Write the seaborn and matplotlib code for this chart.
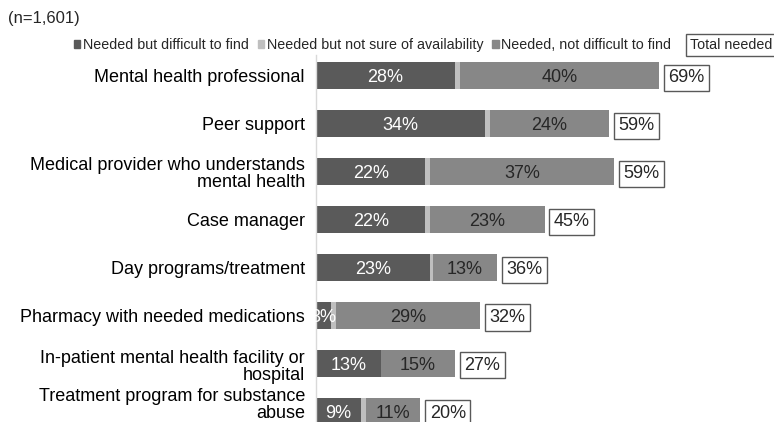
import pandas as pd
import seaborn as sns
import matplotlib.pyplot as plt
from matplotlib.patches import Patch
from matplotlib.transforms import ScaledTranslation

categories = [
    'Mental health professional',
    'Peer support',
    'Medical provider who understands\nmental health',
    'Case manager',
    'Day programs/treatment',
    'Pharmacy with needed medications',
    'In-patient mental health facility or\nhospital',
    'Treatment program for substance\nabuse',
]
difficult = [28, 34, 22, 22, 23, 3, 13, 9]
not_sure = [1, 1, 1, 1, 0.5, 1, 0, 1]
not_difficult = [40, 24, 37, 23, 13, 29, 15, 11]
total = [69, 59, 59, 45, 36, 32, 27, 20]

series_names = ['Needed but difficult to find', 'Needed but not sure of availability',
                'Needed, not difficult to find']

DARK = '#5a5a5a'
LIGHT = '#bfbfbf'
MID = '#878787'
TXT = '#262626'
FS = 13

df = pd.DataFrame({'category': categories, 'difficult': difficult,
                   'not_sure': not_sure, 'not_difficult': not_difficult, 'total': total})
df['s1'] = df['difficult']
df['s2'] = df['s1'] + df['not_sure']
df['s3'] = df['s2'] + df['not_difficult']

sns.set_theme(style='white')
plt.rcParams['font.family'] = ['Liberation Sans', 'DejaVu Sans']

fig = plt.figure(figsize=(7.74, 4.22), dpi=100)
ax = fig.add_axes([316 / 774, 0, 457 / 774, 367 / 422])

# layered bars give the stacked look
for col, colour in [('s3', MID), ('s2', LIGHT), ('s1', DARK)]:
    sns.barplot(data=df, x=col, y='category', color=colour, orient='h', width=0.55,
                saturation=1, linewidth=0, errorbar=None, ax=ax)

for i, row in df.iterrows():
    ax.text(row['difficult'] / 2, i, f"{row['difficult']:.0f}%", ha='center',
            va='center_baseline', color='white', fontsize=FS)
    ax.text(row['s2'] + row['not_difficult'] / 2, i, f"{row['not_difficult']:.0f}%",
            ha='center', va='center_baseline', color=TXT, fontsize=FS)
    ax.annotate(f"{row['total']:.0f}%", xy=(row['s3'], i), xytext=(6.8, 0),
                textcoords='offset points', ha='left', va='center_baseline', color=TXT,
                fontsize=FS,
                bbox=dict(boxstyle='square,pad=0.25', fc='white', ec='#595959', lw=1))

ax.set_xlim(0, 92)
ax.set_ylim(7.22, -0.43)
ax.set_xlabel('')
ax.set_ylabel('')
ax.set_xticks([])
ax.set_yticks(range(len(categories)))
ax.set_yticklabels(categories, fontsize=FS, color='black', linespacing=1.0)
ax.tick_params(axis='y', length=0, pad=8)
labels = ax.get_yticklabels()
# nudge the two lower wrapped labels like the original
labels[6].set_transform(labels[6].get_transform() + ScaledTranslation(0, -2 / 100, fig.dpi_scale_trans))
labels[7].set_transform(labels[7].get_transform() + ScaledTranslation(0, 8 / 100, fig.dpi_scale_trans))
for side in ['top', 'right', 'bottom']:
    ax.spines[side].set_visible(False)
ax.spines['left'].set_color('#d9d9d9')
ax.spines['left'].set_linewidth(1)

handles = [Patch(color=c) for c in [DARK, LIGHT, MID]]
fig.legend(handles, series_names, loc='center left', bbox_to_anchor=(74 / 774, 1 - 45 / 422),
           ncol=3, frameon=False, fontsize=10.3, handlelength=0.45, handleheight=0.45,
           handletextpad=0.2, columnspacing=0.6, borderpad=0, borderaxespad=0,
           labelcolor=TXT)
fig.text(690 / 774, 1 - 45 / 422, 'Total needed', ha='left', va='center', fontsize=10.3, color=TXT,
         bbox=dict(boxstyle='square,pad=0.3', fc='white', ec='#595959', lw=1))
fig.text(8 / 774, 1 - 19 / 422, '(n=1,601)', ha='left', va='center', fontsize=12, color=TXT)

fig.savefig('out.png', dpi=100)
